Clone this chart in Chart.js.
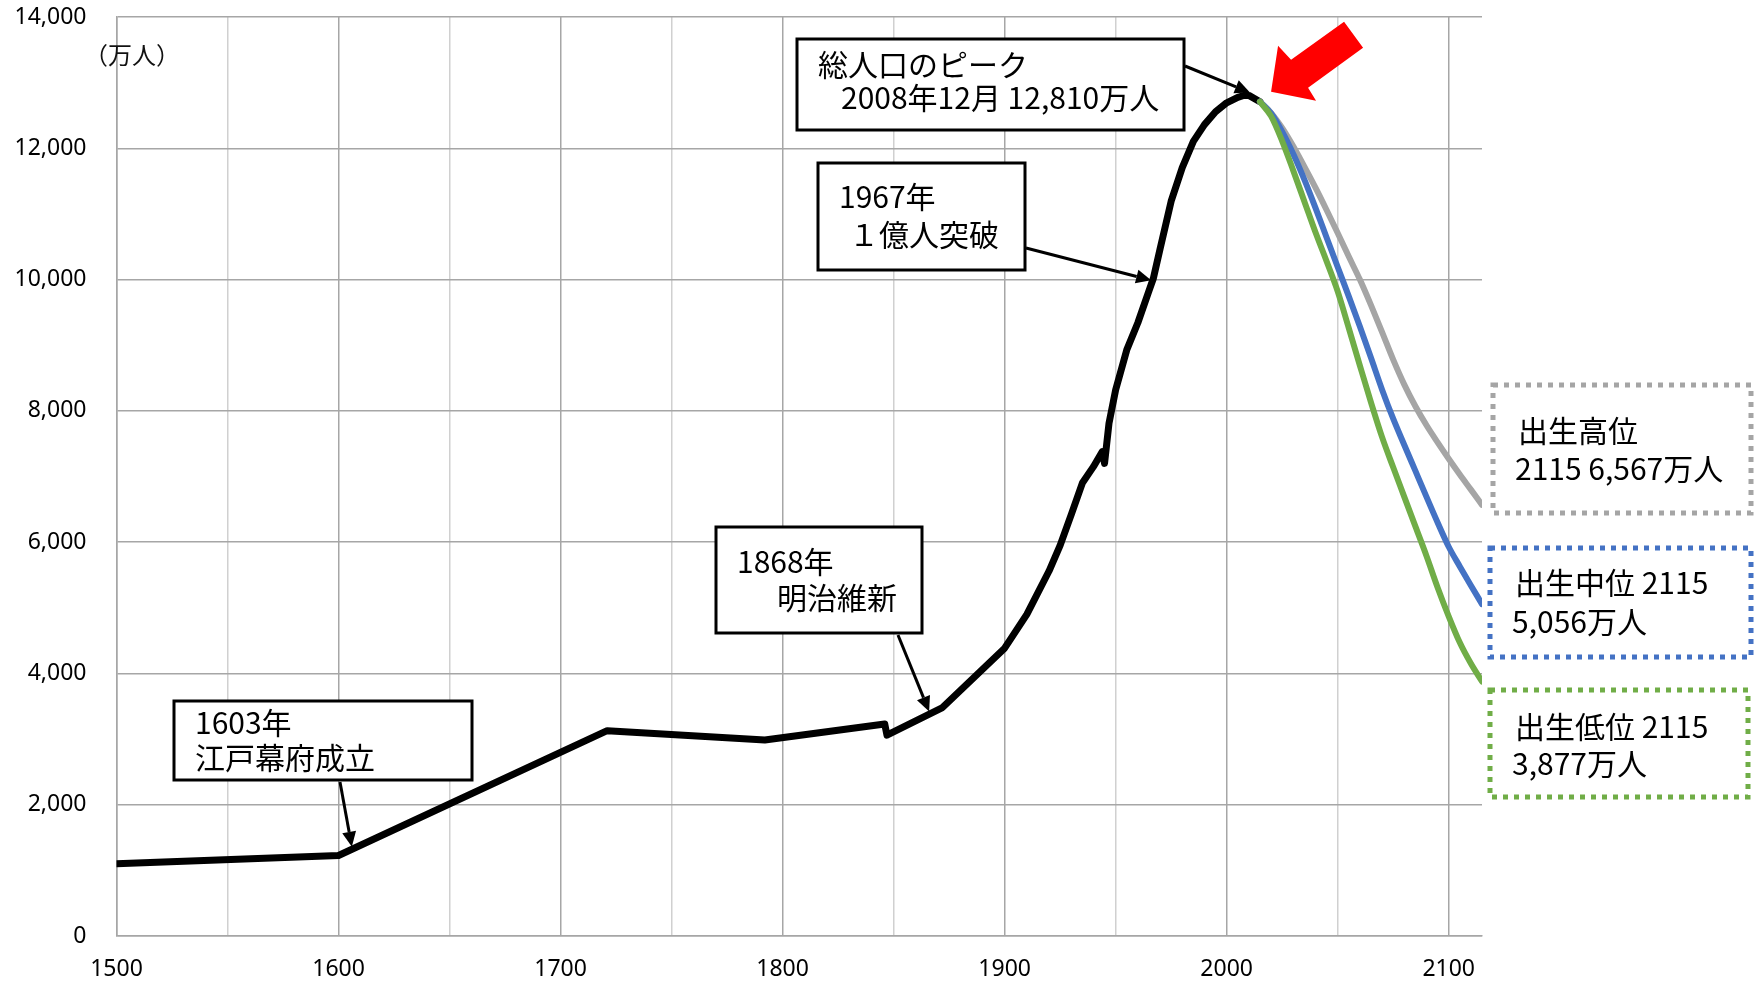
<!DOCTYPE html>
<html lang="ja">
<head>
<meta charset="utf-8">
<script src="https://cdn.jsdelivr.net/npm/chart.js@4.4.0/dist/chart.umd.min.js"></script>
<style>
  html, body { margin: 0; padding: 0; background: #fff; }
  #wrap { width: 1756px; height: 984px; }
</style>
</head>
<body>
<div id="wrap"><canvas id="popChart" width="1756" height="984"></canvas></div>
<script>
// 総人口の長期的推移（万人）
const histYears = [1500, 1600, 1721, 1792, 1846, 1847, 1872, 1900, 1910, 1920, 1925, 1930, 1935, 1940, 1944, 1945, 1947, 1950, 1955, 1960, 1965, 1967, 1970, 1975, 1980, 1985, 1990, 1995, 2000, 2005, 2008, 2010, 2015];
const histPop   = [1100, 1227, 3128, 2987, 3230, 3060, 3480, 4385, 4900, 5560, 5950, 6420, 6900, 7150, 7380, 7200, 7810, 8320, 8928, 9342, 9828, 10020, 10467, 11194, 11706, 12105, 12361, 12557, 12693, 12777, 12808, 12806, 12709];

// 将来推計 2015-2115
const projYears = [2015, 2020, 2025, 2030, 2035, 2040, 2045, 2050, 2055, 2060, 2065, 2070, 2075, 2080, 2085, 2090, 2095, 2100, 2105, 2110, 2115];
const projHigh = [12709, 12540, 12310, 12030, 11720, 11400, 11060, 10710, 10350, 10000, 9610, 9200, 8780, 8400, 8070, 7780, 7520, 7270, 7030, 6800, 6567];
const projMid  = [12709, 12532, 12254, 11913, 11522, 11092, 10642, 10192, 9744, 9284, 8808, 8323, 7880, 7480, 7085, 6690, 6300, 5930, 5630, 5340, 5056];
const projLow  = [12709, 12490, 12110, 11660, 11190, 10720, 10280, 9820, 9260, 8690, 8130, 7600, 7140, 6690, 6240, 5790, 5310, 4870, 4470, 4150, 3877];

const toPoints = (xs, ys) => xs.map((v, i) => ({ x: v, y: ys[i] }));

const jpFont = '"Noto Sans CJK JP", "Noto Sans", sans-serif';
const tickFont = '"Noto Sans", sans-serif';

function drawArrow(ctx, x0, y0, x1, y1) {
    const a = Math.atan2(y1 - y0, x1 - x0);
    const len = 15, w = 7;
    const c = Math.cos(a), s = Math.sin(a);
    ctx.strokeStyle = '#000';
    ctx.fillStyle = '#000';
    ctx.lineWidth = 3;
    ctx.beginPath();
    ctx.moveTo(x0, y0);
    ctx.lineTo(x1 - len * c, y1 - len * s);
    ctx.stroke();
    ctx.beginPath();
    ctx.moveTo(x1, y1);
    ctx.lineTo(x1 - len * c + w * s, y1 - len * s - w * c);
    ctx.lineTo(x1 - len * c - w * s, y1 - len * s + w * c);
    ctx.closePath();
    ctx.fill();
}

function drawBox(ctx, l, t, r, b, lines) {
    ctx.save();
    ctx.fillStyle = '#fff';
    ctx.fillRect(l, t, r - l, b - t);
    ctx.strokeStyle = '#000';
    ctx.lineWidth = 3;
    ctx.strokeRect(l, t, r - l, b - t);
    ctx.fillStyle = '#000';
    ctx.font = '30px ' + jpFont;
    ctx.textBaseline = 'middle';
    ctx.textAlign = 'left';
    lines.forEach(ln => ctx.fillText(ln[0], ln[1], ln[2]));
    ctx.restore();
}

function drawDotBox(ctx, l, t, r, b, color, lines) {
    ctx.save();
    ctx.fillStyle = '#fff';
    ctx.fillRect(l, t, r - l, b - t);
    ctx.strokeStyle = color;
    ctx.lineWidth = 5;
    ctx.setLineDash([5, 6]);
    ctx.strokeRect(l, t, r - l, b - t);
    ctx.setLineDash([]);
    ctx.fillStyle = '#000';
    ctx.font = '30px ' + jpFont;
    ctx.textBaseline = 'middle';
    ctx.textAlign = 'left';
    lines.forEach(ln => ctx.fillText(ln[0], ln[1], ln[2]));
    ctx.restore();
}

const notesPlugin = {
    id: 'notes',
    afterDatasetsDraw(chart) {
        const { ctx, scales: { x, y } } = chart;
        const px = (yr, v) => [x.getPixelForValue(yr), y.getPixelForValue(v)];
        ctx.save();

        // unit label
        ctx.fillStyle = '#111';
        ctx.font = '24px ' + jpFont;
        ctx.textBaseline = 'middle';
        ctx.fillText('（万人）', 84, 55);

        // callout boxes
        drawBox(ctx, 174, 701, 472, 780, [['1603年', 195, 723], ['江戸幕府成立', 195, 758]]);
        let tip = px(1606, 1360);
        drawArrow(ctx, 340, 782, tip[0], tip[1]);

        drawBox(ctx, 716, 527, 922, 633, [['1868年', 737, 562], ['明治維新', 777, 598]]);
        tip = px(1866, 3420);
        drawArrow(ctx, 898, 635, tip[0], tip[1]);

        drawBox(ctx, 818, 163, 1025, 270, [['1967年', 839, 197], ['１億人突破', 849, 235]]);
        tip = px(1966, 9990);
        drawArrow(ctx, 1026, 248, tip[0], tip[1]);

        drawBox(ctx, 797, 39, 1184, 130, [['総人口のピーク', 818, 65], ['2008年12月 12,810万人', 841, 98]]);
        tip = px(2010.5, 12850);
        drawArrow(ctx, 1185, 66, tip[0], tip[1]);

        // red block arrow toward the peak
        const r = px(2020, 12860);
        const shape = [[0, 0], [7, -46], [20, -32], [73, -70], [92, -44], [37, -4], [45, 9]];
        ctx.fillStyle = '#ff0000';
        ctx.beginPath();
        shape.forEach((p, i) => i ? ctx.lineTo(r[0] + p[0], r[1] + p[1]) : ctx.moveTo(r[0] + p[0], r[1] + p[1]));
        ctx.closePath();
        ctx.fill();

        // scenario labels
        drawDotBox(ctx, 1493, 385, 1751, 513, '#a5a5a5', [['出生高位', 1518, 431], ['2115 6,567万人', 1515, 469]]);
        drawDotBox(ctx, 1490, 548, 1751, 657, '#4472c4', [['出生中位 2115', 1515, 583], ['5,056万人', 1512, 622]]);
        drawDotBox(ctx, 1490, 690, 1748, 797, '#70ad47', [['出生低位 2115', 1515, 727], ['3,877万人', 1512, 764]]);

        ctx.restore();
    }
};

const ctx = document.getElementById('popChart').getContext('2d');
const chart = new Chart(ctx, {
    type: 'line',
    data: {
        datasets: [
            {
                label: '出生低位',
                data: toPoints(projYears, projLow),
                borderColor: '#70ad47',
                borderWidth: 6,
                borderCapStyle: 'round',
                cubicInterpolationMode: 'monotone',
                order: 0
            },
            {
                label: '出生中位',
                data: toPoints(projYears, projMid),
                borderColor: '#4472c4',
                borderWidth: 6,
                borderCapStyle: 'round',
                cubicInterpolationMode: 'monotone',
                order: 1
            },
            {
                label: '出生高位',
                data: toPoints(projYears, projHigh),
                borderColor: '#a5a5a5',
                borderWidth: 6,
                borderCapStyle: 'round',
                cubicInterpolationMode: 'monotone',
                order: 2
            },
            {
                label: '総人口',
                data: toPoints(histYears, histPop),
                borderColor: '#000000',
                borderWidth: 7,
                borderJoinStyle: 'round',
                borderCapStyle: 'round',
                tension: 0,
                order: 3
            }
        ]
    },
    options: {
        responsive: false,
        animation: false,
        elements: { point: { radius: 0 } },
        layout: { padding: { left: 0, top: 17, right: 274, bottom: 0 } },
        plugins: {
            legend: { display: false },
            tooltip: { enabled: false }
        },
        scales: {
            x: {
                type: 'linear',
                min: 1500,
                max: 2115,
                afterFit: s => { s.height = 48; s.paddingLeft = 0; s.paddingRight = 0; },
                grid: {
                    drawTicks: false,
                    lineWidth: 1.5,
                    color: c => (c.tick && c.tick.value % 100 === 0) ? '#a6a6a6' : '#d0d0d0'
                },
                border: { color: '#a6a6a6', width: 1.5 },
                ticks: {
                    stepSize: 50,
                    includeBounds: false,
                    autoSkip: false,
                    maxRotation: 0,
                    padding: 20,
                    color: '#000',
                    font: { family: tickFont, size: 23 },
                    callback: v => (v % 100 === 0 ? String(v) : '')
                }
            },
            y: {
                min: 0,
                max: 14000,
                afterFit: s => { s.width = 116.5; s.paddingTop = 0; s.paddingBottom = 0; },
                grid: { drawTicks: false, lineWidth: 1.5, color: '#a6a6a6' },
                border: { color: '#a6a6a6', width: 1.5 },
                ticks: {
                    stepSize: 2000,
                    padding: 30,
                    color: '#000',
                    font: { family: tickFont, size: 23 },
                    callback: v => v.toLocaleString('en-US')
                }
            }
        }
    },
    plugins: [notesPlugin]
});
</script>
</body>
</html>
